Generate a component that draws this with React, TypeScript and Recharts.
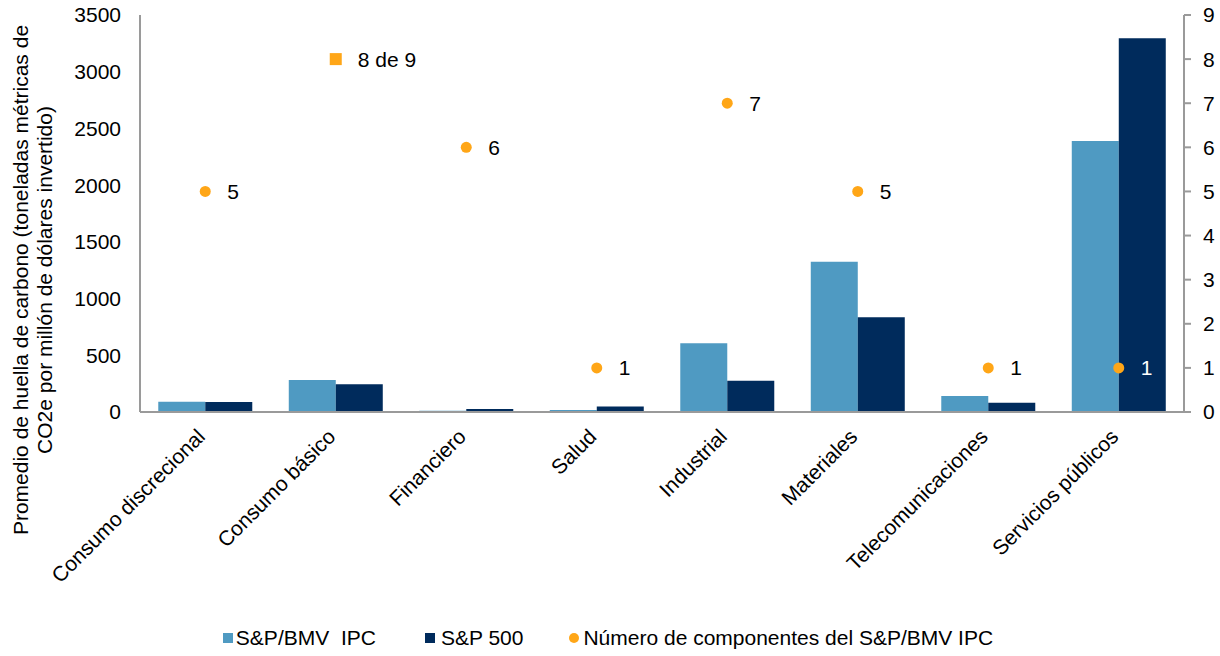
import React from "react";
import {
  ComposedChart,
  Bar,
  Line,
  XAxis,
  YAxis,
  Legend,
  LabelList,
} from "recharts";

const categories = [
  "Consumo discrecional",
  "Consumo básico",
  "Financiero",
  "Salud",
  "Industrial",
  "Materiales",
  "Telecomunicaciones",
  "Servicios públicos",
];
const ipcValues = [90, 282, 12, 18, 606, 1325, 141, 2390];
const sp500Values = [88, 244, 27, 48, 276, 835, 82, 3295];
const componentCounts = [5, 8, 6, 1, 7, 5, 1, 1];
const countLabels = ["5", "8 de 9", "6", "1", "7", "5", "1", "1"];
const leftTicks = [0, 500, 1000, 1500, 2000, 2500, 3000, 3500];
const rightTicks = [0, 1, 2, 3, 4, 5, 6, 7, 8, 9];
const seriesNames = [
  "S&P/BMV  IPC",
  "S&P 500",
  "Número de componentes del S&P/BMV IPC",
];
const yTitleLines = [
  "Promedio de huella de carbono (toneladas métricas de",
  "CO2e por millón de dólares invertido)",
];

const LEFT_MAX = 3500;
const RIGHT_MAX = 9;

const data = categories.map((name, i) => ({
  name,
  ipc: ipcValues[i],
  sp500: sp500Values[i],
  count: componentCounts[i],
  label: countLabels[i],
}));

const FONT = "'Liberation Sans', Arial, sans-serif";
const FS = 21;
const LIGHT = "#4F9AC2";
const DARK = "#002B5C";
const ORANGE = "#FFA617";
const AXIS = "#9A9A9A";

const XTick = (props: any) => {
  const { x, y, payload } = props;
  return (
    <g transform={`translate(${x + 1},${y + 18})`}>
      <text
        textAnchor="end"
        transform="rotate(-45)"
        fontSize={FS}
        fontFamily={FONT}
        fill="#000"
      >
        {payload.value}
      </text>
    </g>
  );
};

const YTitle = () => (
  <g>
    <text
      transform="translate(28,280) rotate(-90)"
      textAnchor="middle"
      fontSize={FS}
      fontFamily={FONT}
      fill="#000"
    >
      {yTitleLines[0]}
    </text>
    <text
      transform="translate(52,280) rotate(-90)"
      textAnchor="middle"
      fontSize={FS}
      fontFamily={FONT}
      fill="#000"
    >
      {yTitleLines[1]}
    </text>
  </g>
);

const CountDot = (props: any) => {
  const { cx, cy, index } = props;
  if (cx == null || cy == null) return <g key={`d${index}`} />;
  const isSquare = countLabels[index] !== String(componentCounts[index]);
  if (isSquare) {
    return (
      <rect
        key={`d${index}`}
        x={cx - 6}
        y={cy - 6}
        width={12}
        height={12}
        fill={ORANGE}
      />
    );
  }
  return <circle key={`d${index}`} cx={cx} cy={cy} r={5.5} fill={ORANGE} />;
};

const CountLabel = (props: any) => {
  const { x, y, index } = props;
  const overBar =
    sp500Values[index] / LEFT_MAX > componentCounts[index] / RIGHT_MAX;
  return (
    <text
      x={x + 22}
      y={y + 7.5}
      fontSize={FS}
      fontFamily={FONT}
      fill={overBar ? "#fff" : "#000"}
      textAnchor="start"
    >
      {countLabels[index]}
    </text>
  );
};

const LegendContent = () => (
  <div
    style={{
      display: "flex",
      justifyContent: "center",
      alignItems: "center",
      height: 30,
      fontFamily: FONT,
      fontSize: FS,
      color: "#000",
      paddingRight: 4,
    }}
  >
    <div style={{ display: "flex", alignItems: "center", marginRight: 49 }}>
      <span
        style={{ width: 10, height: 10, background: LIGHT, marginRight: 3 }}
      />
      <span style={{ whiteSpace: "pre" }}>{seriesNames[0]}</span>
    </div>
    <div style={{ display: "flex", alignItems: "center", marginRight: 46 }}>
      <span
        style={{ width: 10, height: 10, background: DARK, marginRight: 6 }}
      />
      <span style={{ whiteSpace: "pre" }}>{seriesNames[1]}</span>
    </div>
    <div style={{ display: "flex", alignItems: "center" }}>
      <span
        style={{
          width: 10,
          height: 10,
          borderRadius: 5,
          background: ORANGE,
          marginRight: 4,
        }}
      />
      <span style={{ whiteSpace: "pre" }}>{seriesNames[2]}</span>
    </div>
  </div>
);

export default function App() {
  return (
    <div style={{ position: "absolute", left: 0, top: 0, width: 1220, height: 656, background: "#fff" }}>
      <ComposedChart
        width={1220}
        height={656}
        data={data}
        margin={{ top: 15, right: 0, bottom: 3, left: 0 }}
        barCategoryGap="14%"
        barGap={0}
      >
        <XAxis
          dataKey="name"
          xAxisId={0}
          height={211}
          interval={0}
          axisLine={{ stroke: AXIS, strokeWidth: 2 }}
          tickLine={false}
          tick={<XTick />}
        />
        <YAxis
          yAxisId="left"
          orientation="left"
          width={140}
          domain={[0, LEFT_MAX]}
          ticks={leftTicks}
          interval={0}
          axisLine={{ stroke: AXIS, strokeWidth: 2 }}
          tickLine={false}
          tickSize={6}
          tickMargin={13}
          tick={{ fill: "#000", fontSize: FS, fontFamily: FONT }}
          label={<YTitle />}
        />
        <YAxis
          yAxisId="right"
          orientation="right"
          width={36}
          domain={[0, RIGHT_MAX]}
          ticks={rightTicks}
          interval={0}
          axisLine={{ stroke: AXIS, strokeWidth: 2 }}
          tickLine={{ stroke: AXIS, strokeWidth: 2 }}
          tickSize={7}
          tickMargin={12}
          tick={{ fill: "#000", fontSize: FS, fontFamily: FONT, textAnchor: "start" }}
        />
        <Legend verticalAlign="bottom" height={30} content={<LegendContent />} />
        <Bar
          yAxisId="left"
          dataKey="ipc"
          name={seriesNames[0]}
          fill={LIGHT}
          isAnimationActive={false}
        />
        <Bar
          yAxisId="left"
          dataKey="sp500"
          name={seriesNames[1]}
          fill={DARK}
          isAnimationActive={false}
        />
        <Line
          yAxisId="right"
          dataKey="count"
          name={seriesNames[2]}
          stroke="none"
          dot={<CountDot />}
          activeDot={false}
          isAnimationActive={false}
        >
          <LabelList dataKey="count" content={<CountLabel />} />
        </Line>
      </ComposedChart>
    </div>
  );
}
